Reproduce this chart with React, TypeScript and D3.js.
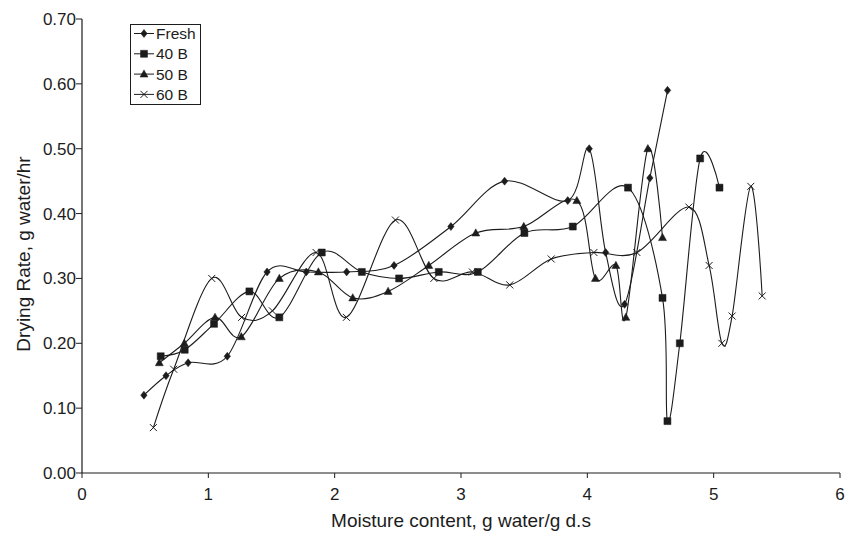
import { scaleLinear, line, curveCardinal } from "d3";

// moisture content (x) and drying rate (y) for each sample
const freshX = [0.49, 0.665, 0.84, 1.15, 1.465, 1.775, 2.095, 2.47, 2.92, 3.345, 3.845, 4.015, 4.145, 4.295, 4.495, 4.635];
const freshY = [0.12, 0.15, 0.17, 0.18, 0.31, 0.31, 0.31, 0.32, 0.38, 0.45, 0.42, 0.5, 0.34, 0.26, 0.455, 0.59];

const b40X = [0.623, 0.813, 1.045, 1.325, 1.562, 1.898, 2.215, 2.51, 2.824, 3.133, 3.502, 3.885, 4.322, 4.595, 4.634, 4.732, 4.893, 5.046];
const b40Y = [0.18, 0.19, 0.23, 0.28, 0.24, 0.34, 0.31, 0.3, 0.31, 0.31, 0.37, 0.38, 0.44, 0.27, 0.08, 0.2, 0.485, 0.44];

const b50X = [0.612, 0.81, 1.053, 1.261, 1.562, 1.871, 2.143, 2.423, 2.745, 3.117, 3.497, 3.917, 4.064, 4.226, 4.305, 4.479, 4.595];
const b50Y = [0.17, 0.2, 0.24, 0.21, 0.3, 0.31, 0.27, 0.28, 0.32, 0.37, 0.38, 0.42, 0.3, 0.32, 0.24, 0.5, 0.363];

const b60X = [0.565, 0.726, 1.027, 1.264, 1.507, 1.853, 2.093, 2.481, 2.785, 3.09, 3.386, 3.714, 4.052, 4.392, 4.804, 4.964, 5.065, 5.146, 5.294, 5.384];
const b60Y = [0.07, 0.16, 0.3, 0.24, 0.25, 0.34, 0.24, 0.39, 0.3, 0.31, 0.29, 0.33, 0.34, 0.34, 0.41, 0.32, 0.2, 0.242, 0.442, 0.273];

const seriesNames = ["Fresh", "40 B", "50 B", "60 B"];
const xTicks = [0, 1, 2, 3, 4, 5, 6];
const yTicks = [0, 0.1, 0.2, 0.3, 0.4, 0.5, 0.6, 0.7];

const W = 855;
const H = 533;
const ink = "#1c1c1c";
const font = "'Liberation Sans', Arial, sans-serif";

// marker shapes, centred on 0,0
const markerPath = (kind: string) => {
  if (kind === "diamond") return "M0,-4L3.2,0L0,4L-3.2,0Z";
  if (kind === "square") return "M-3.5,-3.5H3.5V3.5H-3.5Z";
  if (kind === "triangle") return "M0,-4.2L4,3L-4,3Z";
  return "M-3.5,-3.5L3.5,3.5M3.5,-3.5L-3.5,3.5";
};

const Marker = ({ kind, x, y }: { kind: string; x: number; y: number }) => (
  <path
    d={markerPath(kind)}
    transform={`translate(${x},${y})`}
    fill={kind === "cross" ? "none" : ink}
    stroke={ink}
    strokeWidth={kind === "cross" ? 1 : 0.5}
  />
);

export default function App() {
  const x = scaleLinear().domain([0, 6]).range([82, 840]);
  const y = scaleLinear().domain([0, 0.7]).range([473, 19]);

  const series = [
    { name: seriesNames[0], kind: "diamond", xs: freshX, ys: freshY },
    { name: seriesNames[1], kind: "square", xs: b40X, ys: b40Y },
    { name: seriesNames[2], kind: "triangle", xs: b50X, ys: b50Y },
    { name: seriesNames[3], kind: "cross", xs: b60X, ys: b60Y },
  ];

  const path = line<[number, number]>()
    .x((d) => x(d[0]))
    .y((d) => y(d[1]))
    .curve(curveCardinal.tension(0));

  return (
    <svg width={W} height={H} style={{ position: "absolute", left: 0, top: 0, background: "#fff" }}>
      {/* axes */}
      <line x1={x(0)} x2={x(0)} y1={y(0.7)} y2={y(0)} stroke={ink} strokeWidth={1.2} />
      <line x1={x(0)} x2={x(6)} y1={y(0)} y2={y(0)} stroke={ink} strokeWidth={1.2} />
      {yTicks.map((t) => (
        <g key={"y" + t}>
          <line x1={x(0) - 6} x2={x(0)} y1={y(t)} y2={y(t)} stroke={ink} />
          <text x={x(0) - 6} y={y(t) + 6} textAnchor="end" fontSize={17} fontFamily={font} fill={ink}>
            {t.toFixed(2)}
          </text>
        </g>
      ))}
      {xTicks.map((t) => (
        <g key={"x" + t}>
          <line x1={x(t)} x2={x(t)} y1={y(0)} y2={y(0) + 5} stroke={ink} />
          <text x={x(t)} y={500} textAnchor="middle" fontSize={17} fontFamily={font} fill={ink}>
            {t}
          </text>
        </g>
      ))}
      <text x={461} y={527} textAnchor="middle" fontSize={19} fontFamily={font} fill={ink}>
        Moisture content, g water/g d.s
      </text>
      <text
        transform={`translate(30,${254}) rotate(-90)`}
        textAnchor="middle"
        fontSize={19}
        fontFamily={font}
        fill={ink}
      >
        Drying Rate, g water/hr
      </text>

      {/* series */}
      {series.map((s) => {
        const pts = s.xs.map((v, i) => [v, s.ys[i]] as [number, number]);
        return (
          <g key={s.name}>
            <path d={path(pts) || ""} fill="none" stroke={ink} strokeWidth={1.1} />
            {pts.map((p, i) => (
              <Marker key={i} kind={s.kind} x={x(p[0])} y={y(p[1])} />
            ))}
          </g>
        );
      })}

      {/* legend */}
      <rect x={130.5} y={24.5} width={70} height={80} fill="#fff" stroke={ink} strokeWidth={1} />
      {series.map((s, i) => {
        const ly = 33.5 + i * 20.3;
        return (
          <g key={"lg" + s.name}>
            <line x1={134} x2={154} y1={ly} y2={ly} stroke={ink} strokeWidth={1} />
            <Marker kind={s.kind} x={144} y={ly} />
            <text x={156} y={ly + 5.5} fontSize={15.5} fontFamily={font} fill={ink}>
              {s.name}
            </text>
          </g>
        );
      })}
    </svg>
  );
}
